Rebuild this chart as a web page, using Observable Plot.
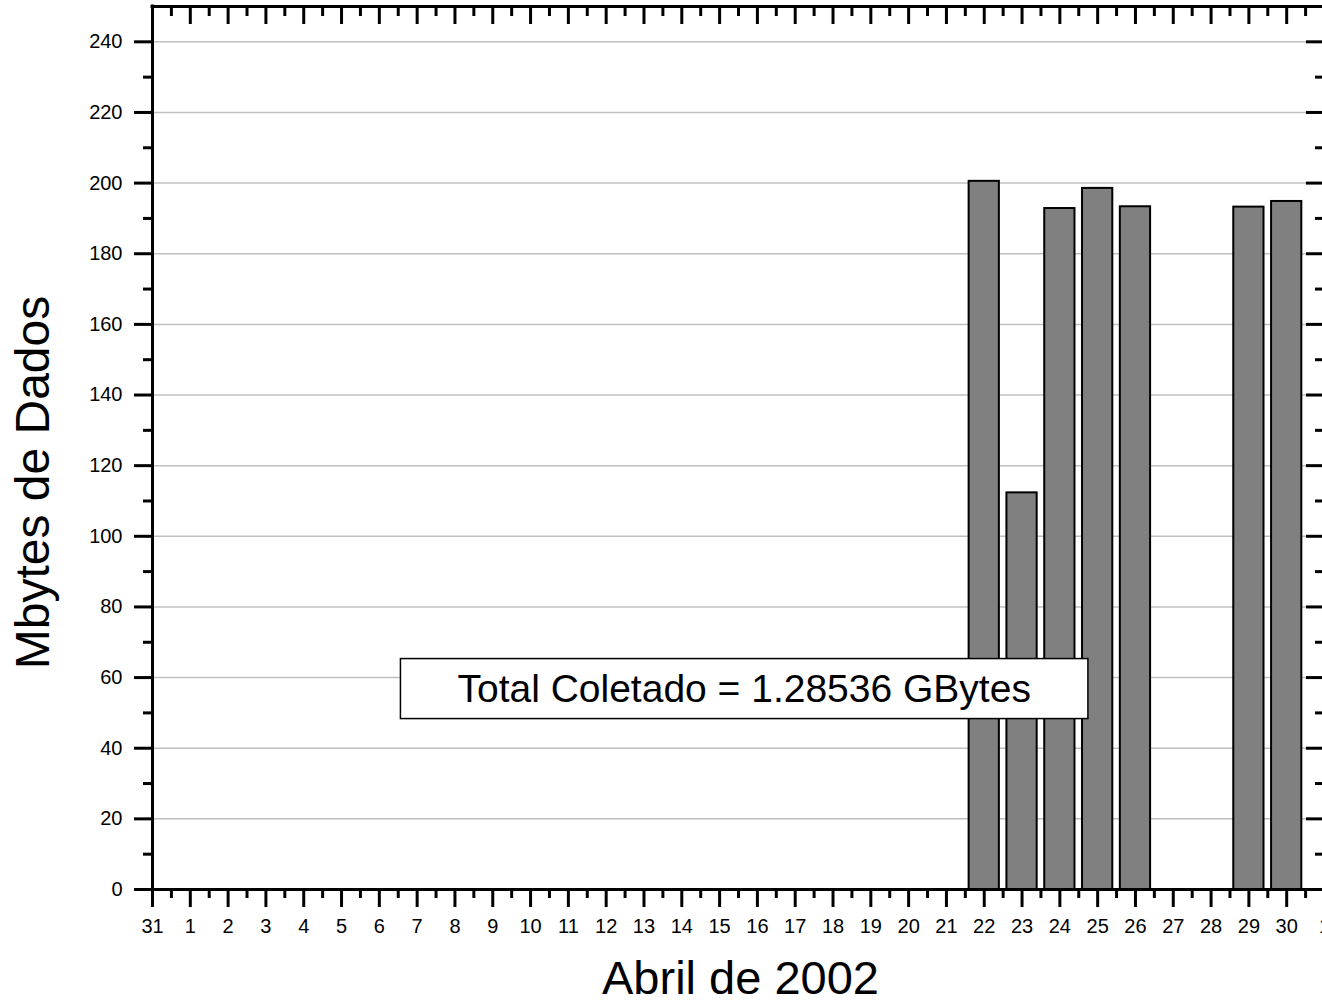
<!DOCTYPE html>
<html><head><meta charset="utf-8">
<script src="https://cdn.jsdelivr.net/npm/d3@7"></script>
<script src="https://cdn.jsdelivr.net/npm/@observablehq/plot@0.6"></script>
<style>body{margin:0;background:#fff;} svg{display:block}</style>
</head><body><div id="chart"></div>
<script>
// Tick labels for the day axis (index 0 = 31 March ... 31 = 1 May)
const dayLabels = ["31","1","2","3","4","5","6","7","8","9","10","11","12","13","14","15","16","17","18","19","20","21","22","23","24","25","26","27","28","29","30","1"];
const barDays = [22, 23, 24, 25, 26, 29, 30];
const barValues = [200.5, 112.3, 192.8, 198.5, 193.3, 193.2, 194.8];
const yMajor = [0, 20, 40, 60, 80, 100, 120, 140, 160, 180, 200, 220, 240];
const yMinor = [10, 30, 50, 70, 90, 110, 130, 150, 170, 190, 210, 230];
const xLabel = "Abril de 2002";
const yLabel = "Mbytes de Dados";
const noteText = "Total Coletado = 1.28536 GBytes";
const notePos = [{day: 15.65, value: 56.6}];

const bars = barDays.map((d, i) => ({day: d, value: barValues[i]}));
const xMajor = dayLabels.map((_, i) => i);
const xMinor = xMajor.slice(0, -1).map(i => i + 0.5);

const W = 1322, H = 1002, mL = 152, mR = -2, mT = 6, mB = 113;
const fw = W - mL - mR, fh = H - mT - mB;

const chart = Plot.plot({
  width: W, height: H,
  marginLeft: mL, marginRight: mR, marginTop: mT, marginBottom: mB,
  x: {domain: [0, 31]},
  y: {domain: [0, 250]},
  style: {fontFamily: "'Liberation Sans', Arial, sans-serif", background: "white", color: "black"},
  marks: [
    Plot.ruleY(yMajor.filter(v => v > 0), {stroke: "#c0c0c0", strokeWidth: 1.5}),
    Plot.rectY(bars, {x1: d => d.day - 0.4, x2: d => d.day + 0.4, y: "value", fill: "#808080", stroke: "black", strokeWidth: 2}),
    // frame lines
    Plot.ruleX([0], {strokeWidth: 3, strokeLinecap: "square"}),
    Plot.ruleY([0], {strokeWidth: 3, strokeLinecap: "square"}),
    Plot.ruleY([250], {strokeWidth: 3, strokeLinecap: "square"}),
    // left & bottom axes (outward ticks)
    Plot.axisY({ticks: yMajor, tickSize: 18, strokeWidth: 3, tickPadding: 12, fontSize: 20, label: null}),
    Plot.axisY({ticks: yMinor, tickSize: 9, strokeWidth: 3, tickFormat: () => "", label: null}),
    Plot.axisX({ticks: xMajor, tickSize: 18, strokeWidth: 3, tickPadding: 11, fontSize: 20, tickFormat: i => dayLabels[i], label: null}),
    Plot.axisX({ticks: xMinor, tickSize: 9, strokeWidth: 3, tickFormat: () => "", label: null}),
    // top & right mirror ticks (inward)
    Plot.ruleX(xMajor, {strokeWidth: 3, insetBottom: fh - 18}),
    Plot.ruleX(xMinor, {strokeWidth: 3, insetBottom: fh - 10}),
    Plot.ruleY(yMajor, {strokeWidth: 3, insetLeft: fw - 18}),
    Plot.ruleY(yMinor, {strokeWidth: 3, insetLeft: fw - 9}),
    // axis titles
    Plot.text([xLabel], {frameAnchor: "bottom", lineAnchor: "bottom", textAnchor: "middle", dx: 740 - (mL + fw / 2), dy: 104, fontSize: 47, text: d => d}),
    Plot.text([yLabel], {frameAnchor: "left", rotate: -90, lineAnchor: "bottom", textAnchor: "middle", dx: -104, dy: 482 - (mT + fh / 2), fontSize: 48, text: d => d}),
    // annotation
    Plot.text(notePos, {x: "day", y: "value", text: () => noteText, fontSize: 39, className: "note"})
  ]
});
document.getElementById("chart").appendChild(chart);

// white box around the annotation text
const t = [...chart.querySelectorAll("text")].find(t => t.textContent === noteText);
const bb = t.getBBox();
const cy = bb.y + bb.height / 2;
const rect = document.createElementNS("http://www.w3.org/2000/svg", "rect");
rect.setAttribute("x", bb.x - 57);
rect.setAttribute("y", cy - 30);
rect.setAttribute("width", bb.width + 114);
rect.setAttribute("height", 60);
rect.setAttribute("fill", "white");
rect.setAttribute("stroke", "black");
rect.setAttribute("stroke-width", 1.5);
if (t.getAttribute("transform")) rect.setAttribute("transform", t.getAttribute("transform"));
t.parentNode.insertBefore(rect, t);
</script>
</body></html>
